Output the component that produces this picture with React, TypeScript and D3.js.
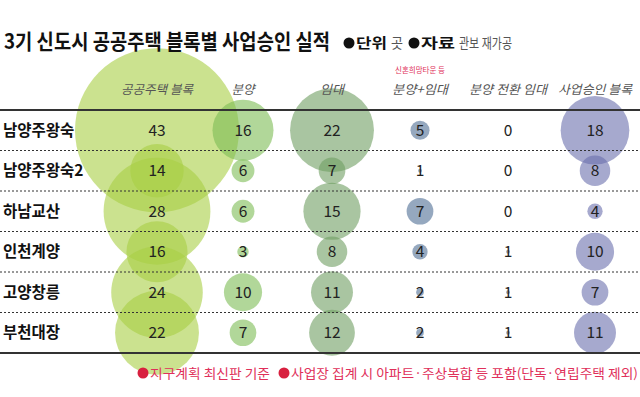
import React from "react";
import * as d3 from "d3";

const regions = ["남양주왕숙", "남양주왕숙2", "하남교산", "인천계양", "고양창릉", "부천대장"];
const columns = ["공공주택 블록", "분양", "임대", "분양+임대", "분양 전환 임대", "사업승인 블록"];
const publicBlocks = [43, 14, 28, 16, 24, 22];
const sale = [16, 6, 6, 3, 10, 7];
const rent = [22, 7, 15, 8, 11, 12];
const saleRent = [5, 1, 7, 4, 2, 2];
const conversion = [0, 0, 0, 1, 1, 1];
const approved = [18, 8, 4, 10, 7, 11];
const series = [publicBlocks, sale, rent, saleRent, conversion, approved];

const colCenters = [157, 243, 332, 420, 508, 595];
const headerWidths = [72, 23, 24, 56, 78, 74];
const colFills = ["#a9cf45", "#7dbd55", "#6f9e63", "#4f6e94", "#6a6a7a", "#6a6fae"];

const W = 640;
const H = 397;
const tableTop = 110;
const tableBottom = 353;

const FONT = "'Noto Sans CJK KR', 'Noto Sans', sans-serif";

export default function App() {
  const y = d3.scaleBand<string>().domain(regions).range([tableTop, tableBottom]).padding(0);
  const x = d3.scaleOrdinal<string, number>().domain(columns).range(colCenters);
  const r = d3.scaleLinear().domain([0, 43]).range([0, 82]);
  const rowC = (reg: string) => (y(reg) as number) + y.bandwidth() / 2;

  const dashedYs = regions.slice(1).map((reg) => y(reg) as number);
  const titleScale = 0.76;

  return (
    <svg width={W} height={H} style={{ position: "absolute", left: 0, top: 0, fontFamily: FONT }}>
      <rect width={W} height={H} fill="#fff" />
      {/* bubbles */}
      {columns.map((col, ci) =>
        series[ci].map((v, ri) => (
          <circle
            key={col + ri}
            cx={x(col)}
            cy={rowC(regions[ri])}
            r={r(v)}
            fill={colFills[ci]}
            fillOpacity={0.6}
          />
        ))
      )}
      {/* title */}
      <g transform={`translate(4,49) scale(${titleScale},1)`}>
        <text x={0} y={0} fontSize={21} fontWeight={700} fill="#111" textLength={326 / titleScale} lengthAdjust="spacingAndGlyphs">
          3기 신도시 공공주택 블록별 사업승인 실적
        </text>
      </g>
      <circle cx={349} cy={43} r={5.5} fill="#111" />
      <text x={356} y={48} fontSize={14} fontWeight={700} fill="#111" textLength={31} lengthAdjust="spacingAndGlyphs">단위</text>
      <text x={391} y={48} fontSize={14} fill="#555" textLength={12} lengthAdjust="spacingAndGlyphs">곳</text>
      <circle cx={414} cy={43} r={5.5} fill="#111" />
      <text x={421} y={48} fontSize={14} fontWeight={700} fill="#111" textLength={34} lengthAdjust="spacingAndGlyphs">자료</text>
      <text x={459} y={48} fontSize={14} fill="#555" textLength={53} lengthAdjust="spacingAndGlyphs">관보 재가공</text>
      {/* small note */}
      <text x={420} y={73} fontSize={7.5} fill="#e0305a" textAnchor="middle">신혼희망타운 등</text>
      {/* headers */}
      {columns.map((col, ci) => (
        <text
          key={col}
          x={(x(col) as number) - headerWidths[ci] / 2}
          y={94}
          fontSize={12.5}
          fontStyle="italic"
          fill="#555"
          textLength={headerWidths[ci]}
          lengthAdjust="spacingAndGlyphs"
        >
          {col}
        </text>
      ))}
      {/* lines */}
      <line x1={0} x2={W} y1={tableTop} y2={tableTop} stroke="#333" strokeWidth={2} />
      <line x1={0} x2={W} y1={tableBottom} y2={tableBottom} stroke="#333" strokeWidth={2} />
      {dashedYs.map((yy, i) => (
        <line key={i} x1={0} x2={W} y1={yy} y2={yy} stroke="#333" strokeWidth={1} strokeDasharray="2,2" />
      ))}
      {/* row labels */}
      {regions.map((reg) => (
        <text key={reg} x={3} y={rowC(reg)} dy="0.36em" fontSize={15.5} fontWeight={700} fill="#111">
          {reg}
        </text>
      ))}
      {/* values */}
      {columns.map((col, ci) =>
        series[ci].map((v, ri) => (
          <text
            key={"t" + col + ri}
            x={x(col)}
            y={rowC(regions[ri])}
            dy="0.36em"
            fontSize={15.5}
            fill="#222"
            textAnchor="middle"
          >
            {v}
          </text>
        ))
      )}
      {/* footnote */}
      <circle cx={143} cy={373} r={5.5} fill="#d8203f" />
      <text x={150} y={378} fontSize={13} fill="#e0305a" textLength={120} lengthAdjust="spacingAndGlyphs">
        지구계획 최신판 기준
      </text>
      <circle cx={284} cy={373} r={5.5} fill="#d8203f" />
      <text x={291} y={378} fontSize={13} fill="#e0305a" textLength={347} lengthAdjust="spacingAndGlyphs">
        사업장 집계 시 아파트·주상복합 등 포함(단독·연립주택 제외)
      </text>
    </svg>
  );
}
